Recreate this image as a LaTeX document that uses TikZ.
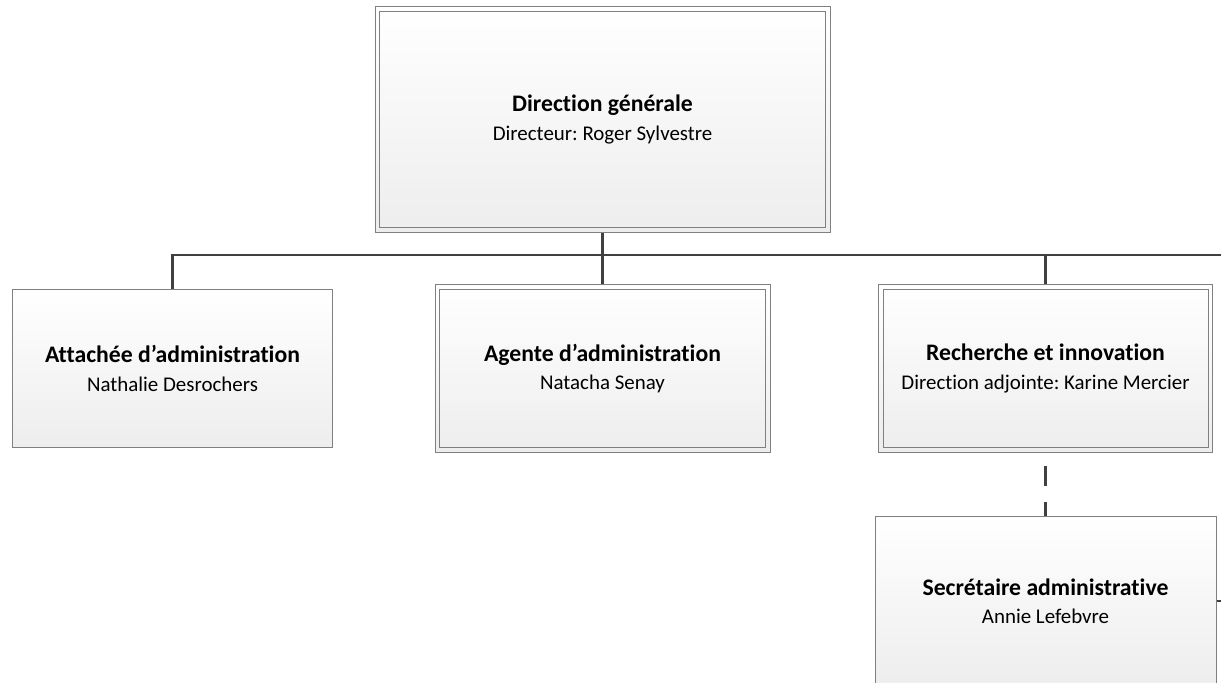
\documentclass[tikz,border=0pt]{standalone}
\usepackage{fontspec}
\setmainfont{Carlito}[Ligatures={NoCommon}]
\frenchspacing
\begin{document}
\begin{tikzpicture}[x=1bp,y=-1bp,line join=miter,
  unit/.style={shape=rectangle,draw=black!50,line width=1bp,top color=white,bottom color=black!7,inner sep=0pt,align=center,font=\fontsize{21}{28.5}\selectfont},
  rim/.style={draw=black!50,line width=0.9bp},
  link/.style={draw=black!75,line width=2.6bp},
]
%%
\useasboundingbox (0,0) rectangle (1221,683);
\clip (0,0) rectangle (1221,683);
\node (node_0) at (602.5,119.5) [unit,minimum width=455bp,minimum height=225bp] {{\bfseries\fontsize{23.8}{28.5}\selectfont Direction générale}\\Directeur: Roger Sylvestre};
  \node (node_1) at (172.5,368.5) [unit,minimum width=319bp,minimum height=157bp] {{\bfseries\fontsize{23.8}{28.5}\selectfont Attachée d’administration}\\Nathalie Desrochers};
  \node (node_2) at (602.5,368.5) [unit,minimum width=335bp,minimum height=167bp] {{\bfseries\fontsize{23.8}{28.5}\selectfont Agente d’administration}\\Natacha Senay};
  \node (node_3) at (1045.5,368.5) [unit,minimum width=334bp,minimum height=167bp] {{\bfseries\fontsize{23.8}{28.5}\selectfont Recherche et innovation}\\Direction adjointe: Karine Mercier};
  \node (node_4) at (1045.5,601) [unit,minimum width=341bp,minimum height=170bp] {{\bfseries\fontsize{23.8}{28.5}\selectfont Secrétaire administrative}\\Annie Lefebvre};
  \foreach \n in {node_0,node_2,node_3}
    \draw [rim] ([shift={(5bp,5bp)}]\n.south west) rectangle ([shift={(-5bp,-5bp)}]\n.north east);
  \coordinate (bus) at (602.5,255);
  \coordinate (bus_end) at (1230,255);
  \coordinate (side_end) at (1230,601);
  \draw [link] (node_0) -- (bus);
  \draw [link] (bus) -| (node_1);
  \draw [link] (bus) -- (node_2);
  \draw [link] (bus) -| (node_3);
  \draw [link] (bus) -- (bus_end);
  \draw [link,dash pattern=on 14bp off 16bp on 20bp off 14bp on 20bp] (node_4) -- (node_3);
  \draw [link] (node_4) -- (side_end);
%
\end{tikzpicture}
\end{document}
